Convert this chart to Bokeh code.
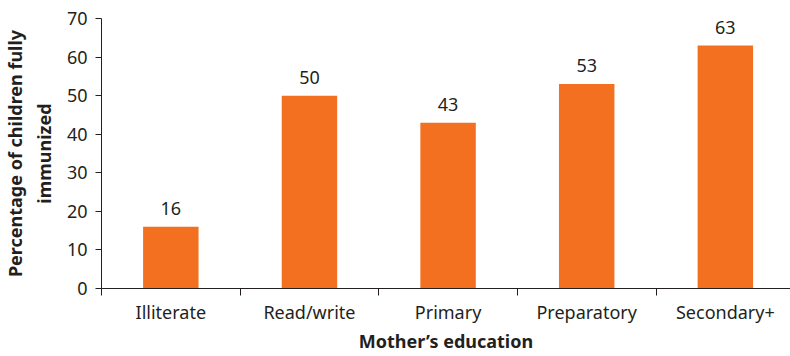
from bokeh.plotting import figure
from bokeh.models import Range1d, FixedTicker, ColumnDataSource, LabelSet
from bokeh.core.properties import value
from bokeh.embed import file_html
from bokeh.resources import INLINE

categories = ["Illiterate", "Read/write", "Primary", "Preparatory", "Secondary+"]
values = [16, 50, 43, 53, 63]
y_ticks = [0, 10, 20, 30, 40, 50, 60, 70]

FONT = "Noto Sans"
INK = "#231f20"
ORANGE = "#F37021"
SIZE = "18px"

centers = [i + 0.5 for i in range(len(categories))]
bounds = list(range(len(categories) + 1))

src = ColumnDataSource(dict(
    x=centers,
    top=values,
    label=[str(v) for v in values],
))

p = figure(
    width=790, height=356,
    x_range=Range1d(0, 4.97), y_range=Range1d(0, 70),
    output_backend="svg", toolbar_location=None,
    min_border_left=101, min_border_right=0,
    min_border_top=18, min_border_bottom=68,
)
p.outline_line_color = None
p.xgrid.visible = False
p.ygrid.visible = False

p.vbar(x="x", top="top", width=0.40, source=src, color=ORANGE, line_color=None)

labels = LabelSet(x="x", y="top", text="label", source=src,
                  text_align="center", text_baseline="alphabetic", y_offset=12,
                  text_font=value(FONT), text_font_size=SIZE, text_color=INK)
p.add_layout(labels)

# x axis: category names at bar centres, tick marks on the boundaries
xa = p.xaxis[0]
xa.ticker = FixedTicker(ticks=centers, minor_ticks=bounds)
xa.major_label_overrides = {c: n for c, n in zip(centers, categories)}
xa.major_tick_out = 0
xa.major_tick_in = 0
xa.minor_tick_out = 7
xa.minor_tick_in = 0
xa.minor_tick_line_color = INK
xa.axis_line_color = INK
xa.major_label_text_font = FONT
xa.major_label_text_font_size = SIZE
xa.major_label_text_color = INK
xa.major_label_standoff = 4
xa.axis_label = "Mother\u2019s education"
xa.axis_label_text_font = FONT
xa.axis_label_text_font_size = SIZE
xa.axis_label_text_font_style = "bold"
xa.axis_label_text_color = INK
xa.axis_label_standoff = 2

ya = p.yaxis[0]
ya.ticker = FixedTicker(ticks=y_ticks)
ya.minor_tick_line_color = None
ya.major_tick_out = 6
ya.major_tick_in = 0
ya.major_tick_line_color = INK
ya.axis_line_color = INK
ya.major_label_text_font = FONT
ya.major_label_text_font_size = SIZE
ya.major_label_text_color = INK
ya.major_label_standoff = 8
ya.axis_label = "Percentage of children fully\nimmunized"
ya.axis_label_text_font = FONT
ya.axis_label_text_font_size = SIZE
ya.axis_label_text_font_style = "bold"
ya.axis_label_text_color = INK
ya.axis_label_standoff = 8

open("out.html", "w").write(file_html(p, INLINE))
